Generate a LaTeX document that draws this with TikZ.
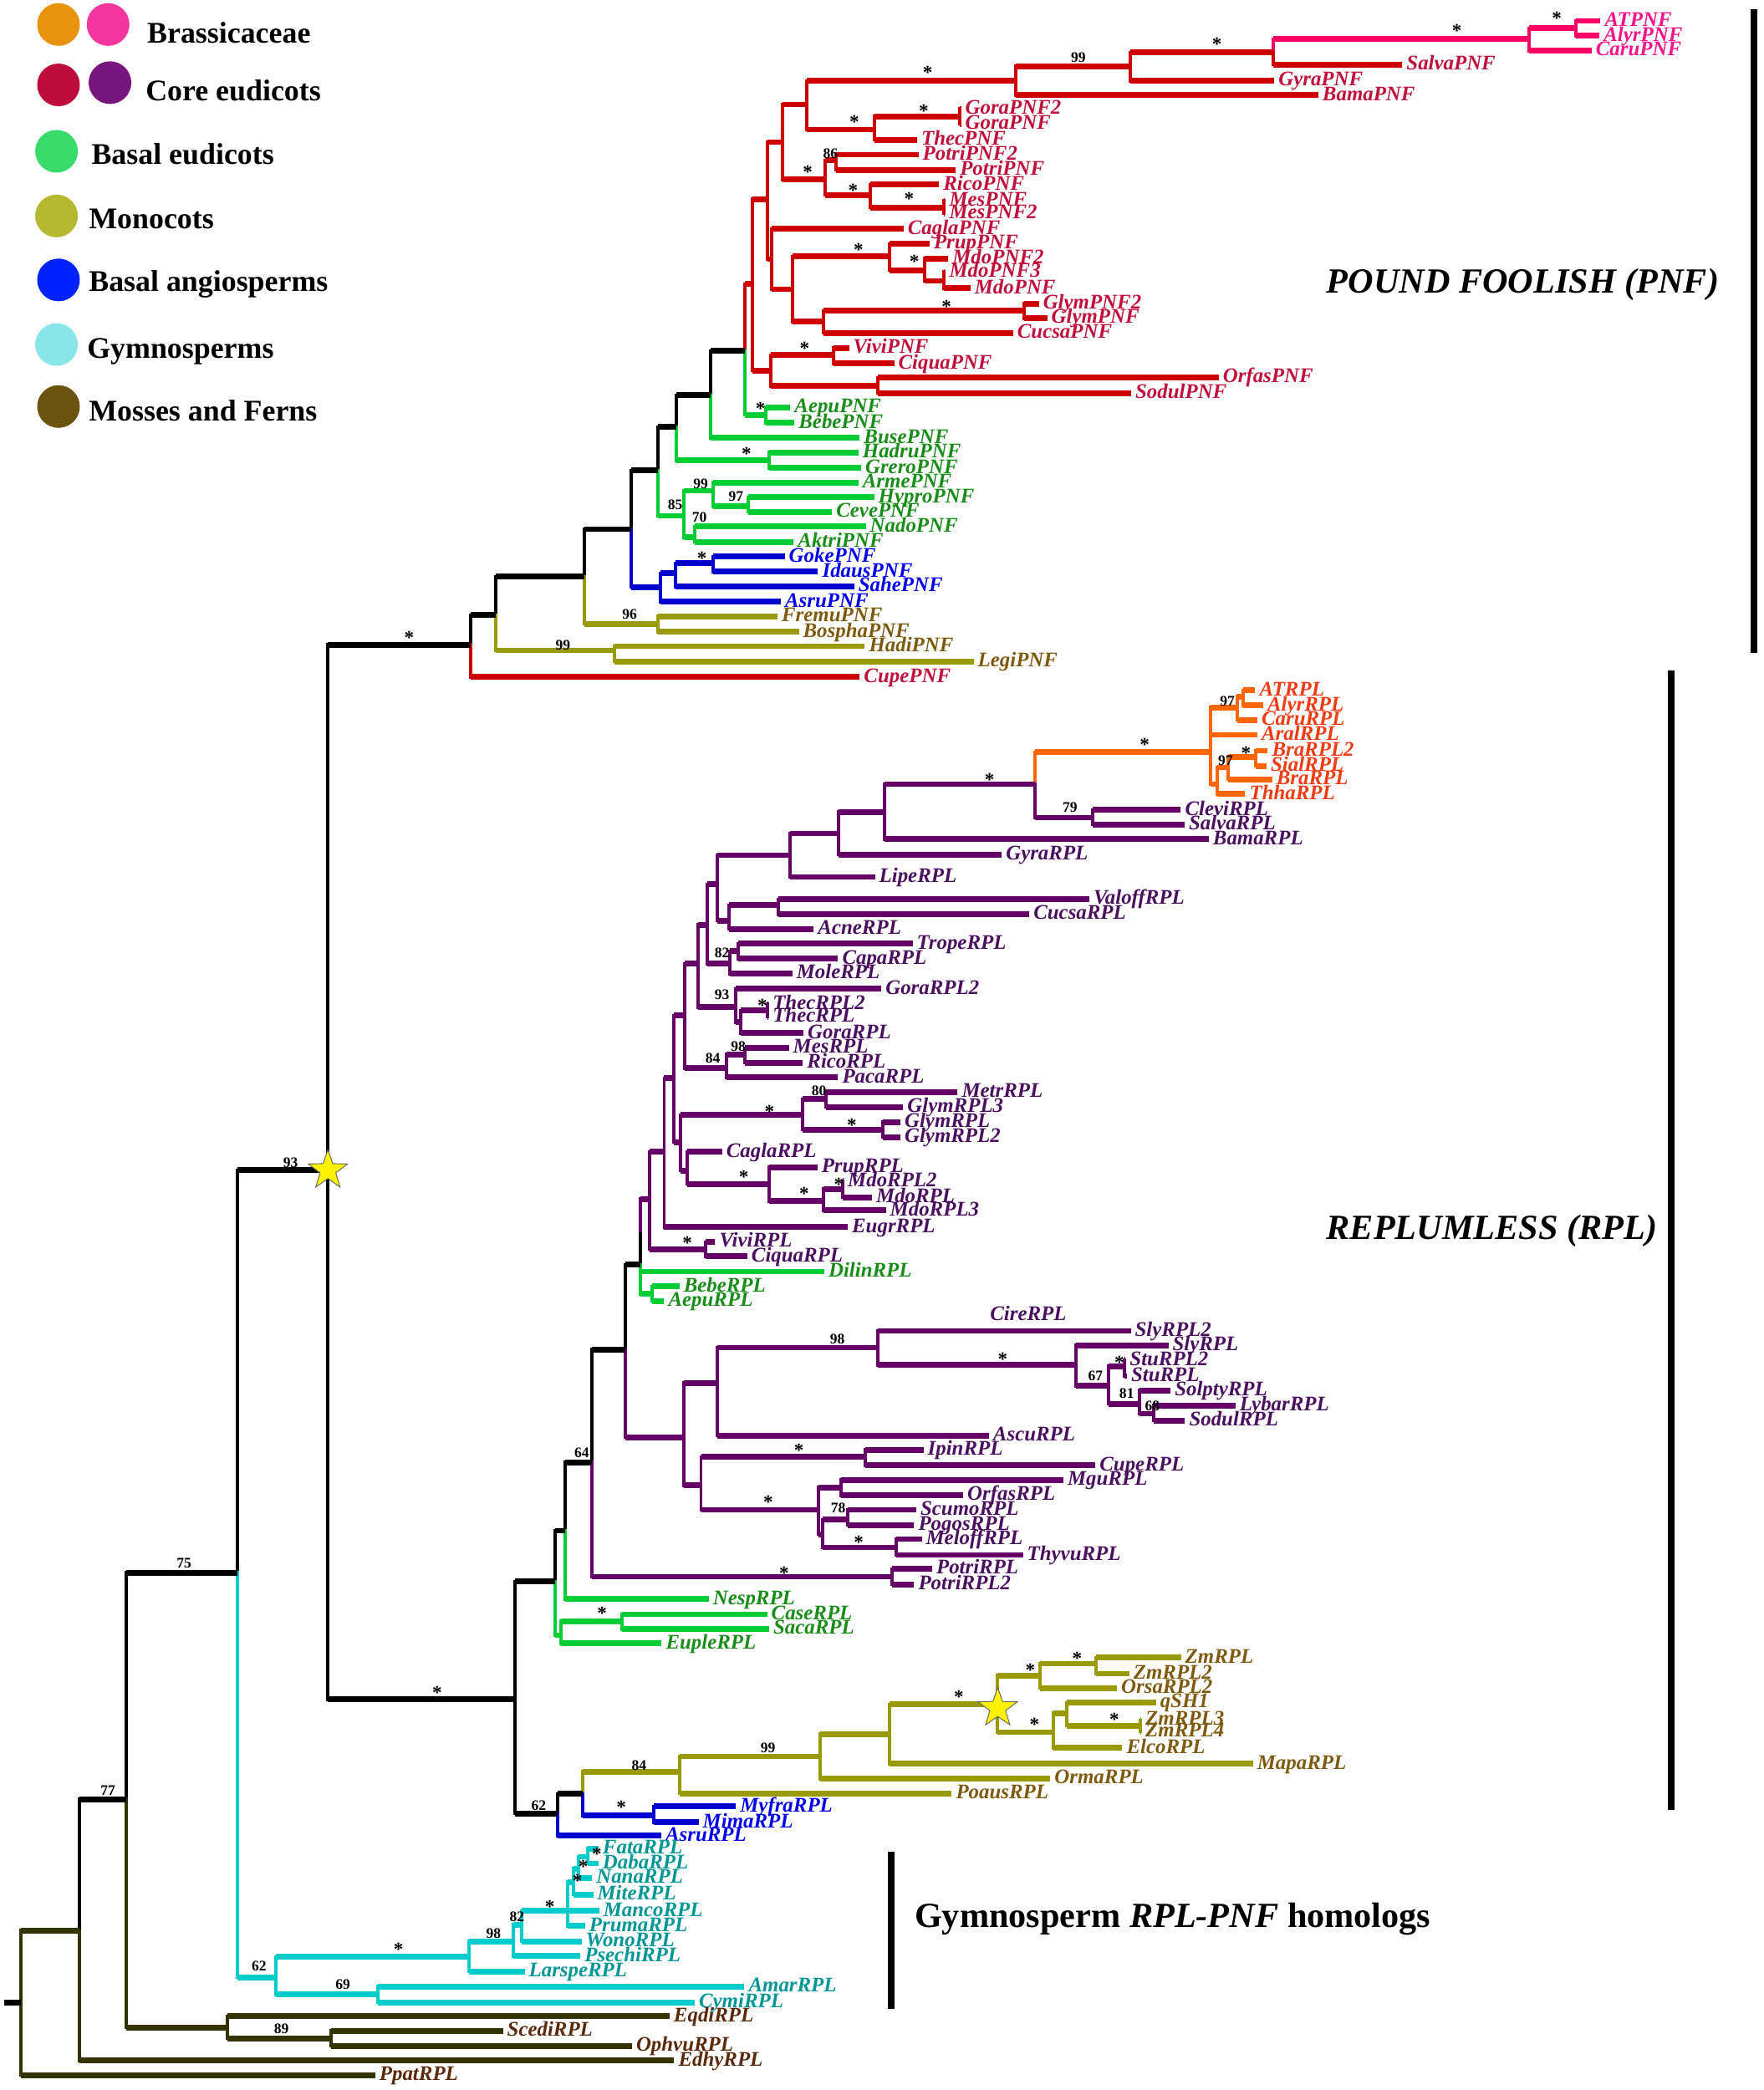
\documentclass[tikz,border=0pt]{standalone}
\usepackage{fontspec}
\setmainfont{Liberation Serif}
\usetikzlibrary{shapes.geometric}

% branch colours
\definecolor{brRed}{RGB}{204,0,0}
\definecolor{brPink}{RGB}{255,0,102}
\definecolor{brPur}{RGB}{102,0,102}
\definecolor{brOrg}{RGB}{255,102,0}
\definecolor{brGrn}{RGB}{0,204,51}
\definecolor{brOli}{RGB}{153,153,0}
\definecolor{brBlu}{RGB}{0,0,204}
\definecolor{brCya}{RGB}{0,204,204}
\definecolor{brMos}{RGB}{51,51,0}
% label colours
\definecolor{txRed}{RGB}{192,16,60}
\definecolor{txPink}{RGB}{245,20,140}
\definecolor{txPur}{RGB}{75,15,95}
\definecolor{txOrg}{RGB}{240,60,20}
\definecolor{txGrn}{RGB}{25,140,25}
\definecolor{txOli}{RGB}{125,90,15}
\definecolor{txBlu}{RGB}{0,0,235}
\definecolor{txCya}{RGB}{0,150,150}
\definecolor{txMos}{RGB}{90,40,10}
% legend colours
\definecolor{lgOrg}{RGB}{232,146,14}
\definecolor{lgPink}{RGB}{245,53,160}
\definecolor{lgRed}{RGB}{190,12,60}
\definecolor{lgPur}{RGB}{120,21,126}
\definecolor{lgGrn}{RGB}{56,218,106}
\definecolor{lgOli}{RGB}{181,185,50}
\definecolor{lgBlu}{RGB}{0,34,255}
\definecolor{lgCya}{RGB}{138,229,234}
\definecolor{lgMos}{RGB}{107,83,16}

\tikzset{
  lab/.style={anchor=west, inner xsep=3pt, inner ysep=0pt, text height=11pt, text depth=3pt,
              font=\fontsize{15.6}{16}\selectfont\bfseries\itshape},
  lRed/.style={lab, text=txRed}, lPink/.style={lab, text=txPink},
  lPur/.style={lab, text=txPur}, lOrg/.style={lab, text=txOrg},
  lGrn/.style={lab, text=txGrn}, lOli/.style={lab, text=txOli},
  lBlu/.style={lab, text=txBlu}, lCya/.style={lab, text=txCya},
  lMos/.style={lab, text=txMos},
  boot/.style={inner sep=0pt, font=\fontsize{11}{12}\selectfont\bfseries},
  ast/.style={yshift=-2.2pt, font=\fontsize{14.5}{15}\selectfont\bfseries},
  heading/.style={anchor=base west, inner sep=0pt, font=\fontsize{26.5}{28}\selectfont\bfseries\itshape},
  legtext/.style={anchor=base west, inner sep=0pt, font=\fontsize{22.5}{24}\selectfont\bfseries},
  dot/.style={circle, minimum size=32pt, inner sep=0pt},
  sidebar/.style={line width=5pt},
  blk/.style={black},
  vbranch/.style={draw, line width=2.5pt, line cap=rect, to path={-- (\tikztostart |- \tikztotarget)}},
  hbranch/.style={draw, line width=4.3pt, to path={(\tikztostart |- \tikztotarget) -- (\tikztotarget)}},
  yelstar/.style={star, star points=5, star point ratio=2.5, minimum size=31pt,
                  fill=yellow, draw=black!60, line width=0.6pt, inner sep=0pt},
}

% all branches, parent first; drawn twice (verticals, then horizontals)
\newcommand{\treeedges}{%
	\path (p1) edge[brPink] (ATPNF);
	\path (p1) edge[brPink] (AlyrPNF);
	\path (p2) edge[brPink] (p1);
	\path (p2) edge[brPink] (CaruPNF);
	\path (p3) edge[brPink] (p2);
	\path (p3) edge[brRed] (SalvaPNF);
	\path (p4) edge[brRed] (p3);
	\path (p4) edge[brRed] (GyraPNF);
	\path (p5) edge[brRed] (p4);
	\path (p5) edge[brRed] (BamaPNF);
	\path (p6) edge[brRed] (p5);
	\path (p6) edge[brRed] (p7);
	\path (p7) edge[brRed] (p8);
	\path (p7) edge[brRed] (ThecPNF);
	\path (p8) edge[brRed] (GoraPNF2);
	\path (p8) edge[brRed] (GoraPNF);
	\path (p9) edge[brRed] (p6);
	\path (p9) edge[brRed] (p10);
	\path (p10) edge[brRed] (p11);
	\path (p10) edge[brRed] (p12);
	\path (p11) edge[brRed] (PotriPNF2);
	\path (p11) edge[brRed] (PotriPNF);
	\path (p12) edge[brRed] (RicoPNF);
	\path (p12) edge[brRed] (p13);
	\path (p13) edge[brRed] (MesPNF);
	\path (p13) edge[brRed] (MesPNF2);
	\path (p14) edge[brRed] (p9);
	\path (p14) edge[brRed] (p15);
	\path (p15) edge[brRed] (CaglaPNF);
	\path (p15) edge[brRed] (p16);
	\path (p16) edge[brRed] (p17);
	\path (p16) edge[brRed] (p20);
	\path (p17) edge[brRed] (PrupPNF);
	\path (p17) edge[brRed] (p18);
	\path (p18) edge[brRed] (MdoPNF2);
	\path (p18) edge[brRed] (p19);
	\path (p19) edge[brRed] (MdoPNF3);
	\path (p19) edge[brRed] (MdoPNF);
	\path (p20) edge[brRed] (p21);
	\path (p20) edge[brRed] (CucsaPNF);
	\path (p21) edge[brRed] (GlymPNF2);
	\path (p21) edge[brRed] (GlymPNF);
	\path (p22) edge[brRed] (p14);
	\path (p22) edge[brRed] (p23);
	\path (p23) edge[brRed] (p24);
	\path (p23) edge[brRed] (p25);
	\path (p24) edge[brRed] (ViviPNF);
	\path (p24) edge[brRed] (CiquaPNF);
	\path (p25) edge[brRed] (OrfasPNF);
	\path (p25) edge[brRed] (SodulPNF);
	\path (p26) edge[brRed] (p22);
	\path (p26) edge[brGrn] (p27);
	\path (p27) edge[brGrn] (AepuPNF);
	\path (p27) edge[brGrn] (BebePNF);
	\path (p28) edge[blk] (p26);
	\path (p28) edge[brGrn] (BusePNF);
	\path (p29) edge[blk] (p28);
	\path (p29) edge[brGrn] (p30);
	\path (p30) edge[brGrn] (HadruPNF);
	\path (p30) edge[brGrn] (GreroPNF);
	\path (p31) edge[blk] (p29);
	\path (p31) edge[brGrn] (p32);
	\path (p32) edge[brGrn] (p33);
	\path (p32) edge[brGrn] (p35);
	\path (p33) edge[brGrn] (ArmePNF);
	\path (p33) edge[brGrn] (p34);
	\path (p34) edge[brGrn] (HyproPNF);
	\path (p34) edge[brGrn] (CevePNF);
	\path (p35) edge[brGrn] (NadoPNF);
	\path (p35) edge[brGrn] (AktriPNF);
	\path (p36) edge[blk] (p31);
	\path (p36) edge[brBlu] (p37);
	\path (p37) edge[brBlu] (p38);
	\path (p37) edge[brBlu] (AsruPNF);
	\path (p38) edge[brBlu] (p39);
	\path (p38) edge[brBlu] (SahePNF);
	\path (p39) edge[brBlu] (GokePNF);
	\path (p39) edge[brBlu] (IdausPNF);
	\path (p40) edge[blk] (p36);
	\path (p40) edge[brOli] (p41);
	\path (p41) edge[brOli] (FremuPNF);
	\path (p41) edge[brOli] (BosphaPNF);
	\path (p42) edge[blk] (p40);
	\path (p42) edge[brOli] (p43);
	\path (p43) edge[brOli] (HadiPNF);
	\path (p43) edge[brOli] (LegiPNF);
	\path (p44) edge[blk] (p42);
	\path (p44) edge[brRed] (CupePNF);
	\path (r1) edge[brOrg] (ATRPL);
	\path (r1) edge[brOrg] (AlyrRPL);
	\path (r2) edge[brOrg] (r1);
	\path (r2) edge[brOrg] (CaruRPL);
	\path (r3) edge[brOrg] (BraRPL2);
	\path (r3) edge[brOrg] (SialRPL);
	\path (r4) edge[brOrg] (r3);
	\path (r4) edge[brOrg] (BraRPL);
	\path (r5) edge[brOrg] (r4);
	\path (r5) edge[brOrg] (ThhaRPL);
	\path (r6) edge[brOrg] (r2);
	\path (r6) edge[brOrg] (AralRPL);
	\path (r6) edge[brOrg] (r5);
	\path (r7) edge[brPur] (CleviRPL);
	\path (r7) edge[brPur] (SalvaRPL);
	\path (r8) edge[brOrg] (r6);
	\path (r8) edge[brPur] (r7);
	\path (r9) edge[brPur] (r8);
	\path (r9) edge[brPur] (BamaRPL);
	\path (r10) edge[brPur] (r9);
	\path (r10) edge[brPur] (GyraRPL);
	\path (r11) edge[brPur] (r10);
	\path (r11) edge[brPur] (LipeRPL);
	\path (r12) edge[brPur] (ValoffRPL);
	\path (r12) edge[brPur] (CucsaRPL);
	\path (r13) edge[brPur] (r12);
	\path (r13) edge[brPur] (AcneRPL);
	\path (r14) edge[brPur] (r11);
	\path (r14) edge[brPur] (r13);
	\path (r15) edge[brPur] (TropeRPL);
	\path (r15) edge[brPur] (CapaRPL);
	\path (r16) edge[brPur] (r15);
	\path (r16) edge[brPur] (MoleRPL);
	\path (r17) edge[brPur] (r14);
	\path (r17) edge[brPur] (r16);
	\path (r18) edge[brPur] (ThecRPL2);
	\path (r18) edge[brPur] (ThecRPL);
	\path (r19) edge[brPur] (r18);
	\path (r19) edge[brPur] (GoraRPL);
	\path (r20) edge[brPur] (GoraRPL2);
	\path (r20) edge[brPur] (r19);
	\path (r21) edge[brPur] (r17);
	\path (r21) edge[brPur] (r20);
	\path (r22) edge[brPur] (MesRPL);
	\path (r22) edge[brPur] (RicoRPL);
	\path (r23) edge[brPur] (r22);
	\path (r23) edge[brPur] (PacaRPL);
	\path (r24) edge[brPur] (r21);
	\path (r24) edge[brPur] (r23);
	\path (r25) edge[brPur] (MetrRPL);
	\path (r25) edge[brPur] (GlymRPL3);
	\path (r26) edge[brPur] (GlymRPL);
	\path (r26) edge[brPur] (GlymRPL2);
	\path (r27) edge[brPur] (r25);
	\path (r27) edge[brPur] (r26);
	\path (r28) edge[brPur] (MdoRPL2);
	\path (r28) edge[brPur] (MdoRPL);
	\path (r29) edge[brPur] (r28);
	\path (r29) edge[brPur] (MdoRPL3);
	\path (r30) edge[brPur] (PrupRPL);
	\path (r30) edge[brPur] (r29);
	\path (r31) edge[brPur] (CaglaRPL);
	\path (r31) edge[brPur] (r30);
	\path (r32) edge[brPur] (r27);
	\path (r32) edge[brPur] (r31);
	\path (r33) edge[brPur] (r24);
	\path (r33) edge[brPur] (r32);
	\path (r34) edge[brPur] (r33);
	\path (r34) edge[brPur] (EugrRPL);
	\path (r35) edge[brPur] (ViviRPL);
	\path (r35) edge[brPur] (CiquaRPL);
	\path (r36) edge[brPur] (r34);
	\path (r36) edge[brPur] (r35);
	\path (r37) edge[brPur] (r36);
	\path (r38) edge[brGrn] (BebeRPL);
	\path (r38) edge[brGrn] (AepuRPL);
	\path (r39) edge[blk] (r37);
	\path (r39) edge[brGrn] (DilinRPL);
	\path (r39) edge[brGrn] (r38);
	\path (r40) edge[brPur] (StuRPL2);
	\path (r40) edge[brPur] (StuRPL);
	\path (r41) edge[brPur] (LybarRPL);
	\path (r41) edge[brPur] (SodulRPL);
	\path (r42) edge[brPur] (SolptyRPL);
	\path (r42) edge[brPur] (r41);
	\path (r43) edge[brPur] (r40);
	\path (r43) edge[brPur] (r42);
	\path (r44) edge[brPur] (SlyRPL);
	\path (r44) edge[brPur] (r43);
	\path (r45) edge[brPur] (SlyRPL2);
	\path (r45) edge[brPur] (r44);
	\path (r46) edge[brPur] (r45);
	\path (r46) edge[brPur] (AscuRPL);
	\path (r47) edge[brPur] (IpinRPL);
	\path (r47) edge[brPur] (CupeRPL);
	\path (r48) edge[brPur] (MguRPL);
	\path (r48) edge[brPur] (OrfasRPL);
	\path (r49) edge[brPur] (ScumoRPL);
	\path (r49) edge[brPur] (PogosRPL);
	\path (r50) edge[brPur] (MeloffRPL);
	\path (r50) edge[brPur] (ThyvuRPL);
	\path (r51) edge[brPur] (r49);
	\path (r51) edge[brPur] (r50);
	\path (r52) edge[brPur] (r48);
	\path (r52) edge[brPur] (r51);
	\path (r53) edge[brPur] (r47);
	\path (r53) edge[brPur] (r52);
	\path (r54) edge[brPur] (r46);
	\path (r54) edge[brPur] (r53);
	\path (r55) edge[blk] (r39);
	\path (r55) edge[brPur] (r54);
	\path (r56) edge[brPur] (PotriRPL);
	\path (r56) edge[brPur] (PotriRPL2);
	\path (r57) edge[blk] (r55);
	\path (r57) edge[brPur] (r56);
	\path (r58) edge[blk] (r57);
	\path (r58) edge[brGrn] (NespRPL);
	\path (r59) edge[brGrn] (CaseRPL);
	\path (r59) edge[brGrn] (SacaRPL);
	\path (r60) edge[brGrn] (r59);
	\path (r60) edge[brGrn] (EupleRPL);
	\path (r61) edge[blk] (r58);
	\path (r61) edge[brGrn] (r60);
	\path (r62) edge[brOli] (ZmRPL);
	\path (r62) edge[brOli] (ZmRPL2);
	\path (r63) edge[brOli] (r62);
	\path (r63) edge[brOli] (OrsaRPL2);
	\path (r64) edge[brOli] (ZmRPL3);
	\path (r64) edge[brOli] (ZmRPL4);
	\path (r65) edge[brOli] (qSH1);
	\path (r65) edge[brOli] (r64);
	\path (r66) edge[brOli] (r65);
	\path (r66) edge[brOli] (ElcoRPL);
	\path (r67) edge[brOli] (r63);
	\path (r67) edge[brOli] (r66);
	\path (r68) edge[brOli] (r67);
	\path (r68) edge[brOli] (MapaRPL);
	\path (r69) edge[brOli] (r68);
	\path (r69) edge[brOli] (OrmaRPL);
	\path (r70) edge[brOli] (r69);
	\path (r70) edge[brOli] (PoausRPL);
	\path (r71) edge[brBlu] (MyfraRPL);
	\path (r71) edge[brBlu] (MimaRPL);
	\path (r72) edge[brOli] (r70);
	\path (r72) edge[brBlu] (r71);
	\path (r73) edge[blk] (r72);
	\path (r73) edge[brBlu] (AsruRPL);
	\path (r74) edge[blk] (r61);
	\path (r74) edge[blk] (r73);
	\path (g1) edge[brCya] (FataRPL);
	\path (g1) edge[brCya] (DabaRPL);
	\path (g2) edge[brCya] (g1);
	\path (g2) edge[brCya] (NanaRPL);
	\path (g3) edge[brCya] (g2);
	\path (g3) edge[brCya] (MiteRPL);
	\path (g4) edge[brCya] (g3);
	\path (g4) edge[brCya] (MancoRPL);
	\path (g4) edge[brCya] (PrumaRPL);
	\path (g5) edge[brCya] (g4);
	\path (g5) edge[brCya] (WonoRPL);
	\path (g6) edge[brCya] (g5);
	\path (g6) edge[brCya] (PsechiRPL);
	\path (g7) edge[brCya] (g6);
	\path (g7) edge[brCya] (LarspeRPL);
	\path (g8) edge[brCya] (AmarRPL);
	\path (g8) edge[brCya] (CymiRPL);
	\path (g9) edge[brCya] (g7);
	\path (g9) edge[brCya] (g8);
	\path (b1) edge[blk] (p44);
	\path (b1) edge[blk] (r74);
	\path (b2) edge[blk] (b1);
	\path (b2) edge[brCya] (g9);
	\path (m1) edge[brMos] (ScediRPL);
	\path (m1) edge[brMos] (OphvuRPL);
	\path (m2) edge[brMos] (EqdiRPL);
	\path (m2) edge[brMos] (m1);
	\path (b3) edge[blk] (b2);
	\path (b3) edge[brMos] (m2);
	\path (b4) edge[blk] (b3);
	\path (b4) edge[brMos] (EdhyRPL);
	\path (b5) edge[brMos] (b4);
	\path (b5) edge[brMos] (PpatRPL);
	\path (root) edge[blk] (b5);
}

\begin{document}
\begin{tikzpicture}[x=1pt, y=-1pt]
\useasboundingbox (0,0) rectangle (1323,1568);

% legend
\begin{scope}[every node/.style={dot}]
	\node[fill=lgOrg] (dBra1) at (43.9,18.4) {};
	\node[fill=lgPink] (dBra2) at (81.1,18.4) {};
	\node[fill=lgRed] (dCor1) at (43.9,63.7) {};
	\node[fill=lgPur] (dCor2) at (82.5,62) {};
	\node[fill=lgGrn] (dBas) at (42.4,113.5) {};
	\node[fill=lgOli] (dMon) at (42.4,162) {};
	\node[fill=lgBlu] (dAng) at (43.9,210) {};
	\node[fill=lgCya] (dGym) at (42.4,258.5) {};
	\node[fill=lgMos] (dMos) at (43.9,305) {};
\end{scope}
\begin{scope}[every node/.style={legtext}]
	\node (tBra) at (110.3,32.4) {Brassicaceae};
	\node (tCor) at (109.1,75.7) {Core eudicots};
	\node (tBas) at (68.5,123.3) {Basal eudicots};
	\node (tMon) at (66.5,171.8) {Monocots};
	\node (tAng) at (66.5,218.4) {Basal angiosperms};
	\node (tGym) at (65.2,268.6) {Gymnosperms};
	\node (tMos) at (66.5,316) {Mosses and Ferns};
\end{scope}

% clade headings and bars
\node[heading] (hPNF) at (995,220) {POUND FOOLISH (PNF)};
\node[heading] (hRPL) at (995,930) {REPLUMLESS (RPL)};
\node[heading, font=\fontsize{26.5}{28}\selectfont\bfseries] (hGym) at (686,1446) {Gymnosperm \textit{RPL-PNF} homologs};
\coordinate (pnfTop) at (1316,7);    \coordinate (pnfBot) at (1316,490);
\coordinate (rplTop) at (1254,503);  \coordinate (rplBot) at (1254,1358);
\coordinate (gymTop) at (668.5,1389); \coordinate (gymBot) at (668.5,1507);
\draw[sidebar] (pnfTop) -- (pnfBot);
\draw[sidebar] (rplTop) -- (rplBot);
\draw[sidebar] (gymTop) -- (gymBot);

% internal nodes, PNF
\coordinate (p1) at (1182,21.2);
\coordinate (p2) at (1147,29.3);
\coordinate (p3) at (955,39.3);
\coordinate (p4) at (848,49.7);
\coordinate (p5) at (762,60.6);
\coordinate (p6) at (605,78.4);
\coordinate (p7) at (656,97.2);
\coordinate (p8) at (720,87.3);
\coordinate (p9) at (587,106.6);
\coordinate (p10) at (619,134.8);
\coordinate (p11) at (627.5,120.2);
\coordinate (p12) at (652.7,146.3);
\coordinate (p13) at (708,155.7);
\coordinate (p14) at (576,149.4);
\coordinate (p15) at (579,194.4);
\coordinate (p16) at (594.7,217);
\coordinate (p17) at (667.5,192.3);
\coordinate (p18) at (693.8,202.7);
\coordinate (p19) at (708,210.7);
\coordinate (p20) at (617.6,241.4);
\coordinate (p21) at (768.2,233);
\coordinate (p22) at (564.5,213);
\coordinate (p23) at (578.5,278);
\coordinate (p24) at (625.5,266.5);
\coordinate (p25) at (658.3,289.5);
\coordinate (p26) at (558.6,263.3);
\coordinate (p27) at (574.6,311.4);
\coordinate (p28) at (533,296.4);
\coordinate (p29) at (507.5,320.2);
\coordinate (p30) at (576.8,345.3);
\coordinate (p31) at (493.7,352.8);
\coordinate (p32) at (512.9,387);
\coordinate (p33) at (535.3,368.2);
\coordinate (p34) at (561.5,380);
\coordinate (p35) at (520.9,403);
\coordinate (p36) at (473.5,397);
\coordinate (p37) at (495.3,440.6);
\coordinate (p38) at (506.5,430.1);
\coordinate (p39) at (535.3,422.6);
\coordinate (p40) at (438.4,432.6);
\coordinate (p41) at (493.7,468.1);
\coordinate (p42) at (372.2,461.4);
\coordinate (p43) at (460.8,488);
\coordinate (p44) at (353,483.8);

% internal nodes, RPL
\coordinate (r1) at (932.6,522.5);
\coordinate (r2) at (928,530.8);
\coordinate (r3) at (941.8,568);
\coordinate (r4) at (921.4,575.8);
\coordinate (r5) at (913,588.3);
\coordinate (r6) at (908.2,564.3);
\coordinate (r7) at (820,613.4);
\coordinate (r8) at (776.7,588.3);
\coordinate (r9) at (663.3,609.2);
\coordinate (r10) at (629.2,625.3);
\coordinate (r11) at (592.4,641.6);
\coordinate (r12) at (584,679.2);
\coordinate (r13) at (546.9,690.7);
\coordinate (r14) at (538.3,663.5);
\coordinate (r15) at (553.9,713.7);
\coordinate (r16) at (547.6,723.1);
\coordinate (r17) at (530.5,693.8);
\coordinate (r18) at (575.5,758.2);
\coordinate (r19) at (555.5,766.8);
\coordinate (r20) at (552.1,755.5);
\coordinate (r21) at (523.5,723.1);
\coordinate (r22) at (558.6,791);
\coordinate (r23) at (545,801.5);
\coordinate (r24) at (513.9,761.8);
\coordinate (r25) at (619.6,824.5);
\coordinate (r26) at (662.5,847.5);
\coordinate (r27) at (602.3,836.4);
\coordinate (r28) at (631.9,892);
\coordinate (r29) at (617.8,901.1);
\coordinate (r30) at (576.8,888.2);
\coordinate (r31) at (515.7,878.2);
\coordinate (r32) at (510.5,856.9);
\coordinate (r33) at (505.3,808.8);
\coordinate (r34) at (498.3,864.2);
\coordinate (r35) at (529.5,937.3);
\coordinate (r36) at (487.1,899.7);
\coordinate (r37) at (480.6,925.8);
\coordinate (r38) at (488.9,970.7);
\coordinate (r39) at (480.6,948.7);
\coordinate (r40) at (843.4,1025.1);
\coordinate (r41) at (865.5,1060.6);
\coordinate (r42) at (854.9,1053.3);
\coordinate (r43) at (831.4,1039.7);
\coordinate (r44) at (806.9,1024);
\coordinate (r45) at (658.6,1011);
\coordinate (r46) at (538,1037.6);
\coordinate (r47) at (649,1092.9);
\coordinate (r48) at (630.7,1116);
\coordinate (r49) at (636.2,1140);
\coordinate (r50) at (672.4,1160.9);
\coordinate (r51) at (617,1151.1);
\coordinate (r52) at (613.8,1132.7);
\coordinate (r53) at (525.9,1114.3);
\coordinate (r54) at (513.1,1078.4);
\coordinate (r55) at (469,1012.5);
\coordinate (r56) at (669.2,1182.9);
\coordinate (r57) at (444.3,1097.2);
\coordinate (r58) at (424.1,1148.4);
\coordinate (r59) at (466.7,1216.3);
\coordinate (r60) at (421,1226.8);
\coordinate (r61) at (416.5,1186.6);
\coordinate (r62) at (822,1248.1);
\coordinate (r63) at (780,1257);
\coordinate (r64) at (855.2,1294.7);
\coordinate (r65) at (800,1285.3);
\coordinate (r66) at (790,1299.5);
\coordinate (r67) at (748.1,1278.6);
\coordinate (r68) at (667.3,1301);
\coordinate (r69) at (615.3,1317.7);
\coordinate (r70) at (510.1,1329.2);
\coordinate (r71) at (490.2,1362.2);
\coordinate (r72) at (437,1345.9);
\coordinate (r73) at (418.2,1360.5);
\coordinate (r74) at (386.2,1274.8);

% internal nodes, gymnosperms, mosses and backbone
\coordinate (g1) at (441,1393);
\coordinate (g2) at (434,1402);
\coordinate (g3) at (430,1412);
\coordinate (g4) at (425.7,1433.6);
\coordinate (g5) at (391.4,1444.1);
\coordinate (g6) at (384.8,1456.6);
\coordinate (g7) at (351.8,1468.1);
\coordinate (g8) at (283.7,1496.4);
\coordinate (g9) at (206.7,1483.4);
\coordinate (m1) at (248.5,1529.3);
\coordinate (m2) at (170.6,1521);
\coordinate (b1) at (246,878);
\coordinate (b2) at (178.1,1180);
\coordinate (b3) at (94.6,1350);
\coordinate (b4) at (59.4,1448.3);
\coordinate (b5) at (15.4,1502.6);
\coordinate (root) at (3,1502.6);

% leaves, PNF
\node[lPink] (ATPNF) at (1200.7,15.7) {ATPNF};
\node[lPink] (AlyrPNF) at (1200,26.8) {AlyrPNF};
\node[lPink] (CaruPNF) at (1194,38) {CaruPNF};
\node[lRed] (SalvaPNF) at (1052,48.5) {SalvaPNF};
\node[lRed] (GyraPNF) at (956,60.6) {GyraPNF};
\node[lRed] (BamaPNF) at (989,71.3) {BamaPNF};
\node[lRed] (GoraPNF2) at (721,81.5) {GoraPNF2};
\node[lRed] (GoraPNF) at (721,93) {GoraPNF};
\node[lRed] (ThecPNF) at (688,104.9) {ThecPNF};
\node[lRed] (PotriPNF2) at (689,116) {PotriPNF2};
\node[lRed] (PotriPNF) at (717,127.5) {PotriPNF};
\node[lRed] (RicoPNF) at (704.5,138.4) {RicoPNF};
\node[lRed] (MesPNF) at (709,150.5) {MesPNF};
\node[lRed] (MesPNF2) at (709,160) {MesPNF2};
\node[lRed] (CaglaPNF) at (677.8,171.8) {CaglaPNF};
\node[lRed] (PrupPNF) at (697.4,182.9) {PrupPNF};
\node[lRed] (MdoPNF2) at (711.4,194) {MdoPNF2};
\node[lRed] (MdoPNF3) at (709,203.8) {MdoPNF3};
\node[lRed] (MdoPNF) at (728,216.3) {MdoPNF};
\node[lRed] (GlymPNF2) at (779.4,227.8) {GlymPNF2};
\node[lRed] (GlymPNF) at (785.6,238.7) {GlymPNF};
\node[lRed] (CucsaPNF) at (760,249.7) {CucsaPNF};
\node[lRed] (ViviPNF) at (637,261.2) {ViviPNF};
\node[lRed] (CiquaPNF) at (670.8,272.7) {CiquaPNF};
\node[lRed] (OrfasPNF) at (914.3,283.2) {OrfasPNF};
\node[lRed] (SodulPNF) at (848.6,295) {SodulPNF};
\node[lGrn] (AepuPNF) at (592.9,305.5) {AepuPNF};
\node[lGrn] (BebePNF) at (596,317.2) {BebePNF};
\node[lGrn] (BusePNF) at (645,328.5) {BusePNF};
\node[lGrn] (HadruPNF) at (644,339.6) {HadruPNF};
\node[lGrn] (GreroPNF) at (646,351) {GreroPNF};
\node[lGrn] (ArmePNF) at (644,362) {ArmePNF};
\node[lGrn] (HyproPNF) at (655.8,373) {HyproPNF};
\node[lGrn] (CevePNF) at (624.2,384.1) {CevePNF};
\node[lGrn] (NadoPNF) at (649.5,395) {NadoPNF};
\node[lGrn] (AktriPNF) at (595.4,406.5) {AktriPNF};
\node[lBlu] (GokePNF) at (588.7,417.6) {GokePNF};
\node[lBlu] (IdausPNF) at (613.7,428.8) {IdausPNF};
\node[lBlu] (SahePNF) at (640.8,440) {SahePNF};
\node[lBlu] (AsruPNF) at (585.8,451.4) {AsruPNF};
\node[lOli] (FremuPNF) at (583.3,462.3) {FremuPNF};
\node[lOli] (BosphaPNF) at (599.3,474) {BosphaPNF};
\node[lOli] (HadiPNF) at (648.8,484.8) {HadiPNF};
\node[lOli] (LegiPNF) at (730.4,496.4) {LegiPNF};
\node[lRed] (CupePNF) at (645,507.8) {CupePNF};

% leaves, RPL
\node[lOrg] (ATRPL) at (941.7,517.9) {ATRPL};
\node[lOrg] (AlyrRPL) at (947.7,529.2) {AlyrRPL};
\node[lOrg] (CaruRPL) at (943.3,540.2) {CaruRPL};
\node[lOrg] (AralRPL) at (943.3,551.3) {AralRPL};
\node[lOrg] (BraRPL2) at (951.1,563.2) {BraRPL2};
\node[lOrg] (SialRPL) at (950.2,574.7) {SialRPL};
\node[lOrg] (BraRPL) at (954.4,584.8) {BraRPL};
\node[lOrg] (ThhaRPL) at (934.2,595.6) {ThhaRPL};
\node[lPur] (CleviRPL) at (885.9,607.7) {CleviRPL};
\node[lPur] (SalvaRPL) at (888.7,618.6) {SalvaRPL};
\node[lPur] (BamaRPL) at (906.8,629.5) {BamaRPL};
\node[lPur] (GyraRPL) at (751.5,641.2) {GyraRPL};
\node[lPur] (LipeRPL) at (656.4,657.9) {LipeRPL};
\node[lPur] (ValoffRPL) at (817.2,674.6) {ValoffRPL};
\node[lPur] (CucsaRPL) at (772.2,685.9) {CucsaRPL};
\node[lPur] (AcneRPL) at (610.5,697) {AcneRPL};
\node[lPur] (TropeRPL) at (684.6,708) {TropeRPL};
\node[lPur] (CapaRPL) at (628.7,719.3) {CapaRPL};
\node[lPur] (MoleRPL) at (594.4,730.4) {MoleRPL};
\node[lPur] (GoraRPL2) at (661.2,741.9) {GoraRPL2};
\node[lPur] (ThecRPL2) at (576.5,753.4) {ThecRPL2};
\node[lPur] (ThecRPL) at (576.5,762.8) {ThecRPL};
\node[lPur] (GoraRPL) at (602.8,775) {GoraRPL};
\node[lPur] (MesRPL) at (591.8,786.2) {MesRPL};
\node[lPur] (RicoRPL) at (602.3,797.3) {RicoRPL};
\node[lPur] (PacaRPL) at (628.7,808.3) {PacaRPL};
\node[lPur] (MetrRPL) at (718.4,819.2) {MetrRPL};
\node[lPur] (GlymRPL3) at (677.6,830.7) {GlymRPL3};
\node[lPur] (GlymRPL) at (675.5,841.8) {GlymRPL};
\node[lPur] (GlymRPL2) at (675.5,853.1) {GlymRPL2};
\node[lPur] (CaglaRPL) at (541.7,864.2) {CaglaRPL};
\node[lPur] (PrupRPL) at (613.2,875.7) {PrupRPL};
\node[lPur] (MdoRPL2) at (632.9,886.1) {MdoRPL2};
\node[lPur] (MdoRPL) at (654.2,898.2) {MdoRPL};
\node[lPur] (MdoRPL3) at (664.6,908) {MdoRPL3};
\node[lPur] (EugrRPL) at (636,920.6) {EugrRPL};
\node[lPur] (ViviRPL) at (536.5,931.7) {ViviRPL};
\node[lPur] (CiquaRPL) at (560.6,942.5) {CiquaRPL};
\node[lGrn] (DilinRPL) at (618.4,954) {DilinRPL};
\node[lGrn] (BebeRPL) at (509.7,965.1) {BebeRPL};
\node[lGrn] (AepuRPL) at (498.3,976) {AepuRPL};
\node[lPur] (CireRPL) at (739.6,986.5) {CireRPL};
\node[lPur] (SlyRPL2) at (848.3,998.5) {SlyRPL2};
\node[lPur] (SlyRPL) at (876.5,1009.4) {SlyRPL};
\node[lPur] (StuRPL2) at (844.4,1020.3) {StuRPL2};
\node[lPur] (StuRPL) at (845.4,1032.4) {StuRPL};
\node[lPur] (SolptyRPL) at (878.2,1043.3) {SolptyRPL};
\node[lPur] (LybarRPL) at (926.9,1054.4) {LybarRPL};
\node[lPur] (SodulRPL) at (889,1065.8) {SodulRPL};
\node[lPur] (AscuRPL) at (741.9,1077) {AscuRPL};
\node[lPur] (IpinRPL) at (692.8,1087.8) {IpinRPL};
\node[lPur] (CupeRPL) at (821.8,1099.3) {CupeRPL};
\node[lPur] (MguRPL) at (797.8,1110.3) {MguRPL};
\node[lPur] (OrfasRPL) at (722.6,1121.8) {OrfasRPL};
\node[lPur] (ScumoRPL) at (687.4,1132.7) {ScumoRPL};
\node[lPur] (PogosRPL) at (685.8,1144.2) {PogosRPL};
\node[lPur] (MeloffRPL) at (691.5,1154.7) {MeloffRPL};
\node[lPur] (ThyvuRPL) at (767.4,1166.6) {ThyvuRPL};
\node[lPur] (PotriRPL) at (699.3,1177) {PotriRPL};
\node[lPur] (PotriRPL2) at (685.8,1188.7) {PotriRPL2};
\node[lGrn] (NespRPL) at (531.7,1199.6) {NespRPL};
\node[lGrn] (CaseRPL) at (575.5,1211.1) {CaseRPL};
\node[lGrn] (SacaRPL) at (577,1222.1) {SacaRPL};
\node[lGrn] (EupleRPL) at (496.4,1233) {EupleRPL};
\node[lOli] (ZmRPL) at (886,1243.5) {ZmRPL};
\node[lOli] (ZmRPL2) at (847.2,1255.6) {ZmRPL2};
\node[lOli] (OrsaRPL2) at (838,1266.5) {OrsaRPL2};
\node[lOli] (qSH1) at (867.2,1277.3) {qSH1};
\node[lOli] (ZmRPL3) at (856.2,1290.5) {ZmRPL3};
\node[lOli] (ZmRPL4) at (856.2,1299) {ZmRPL4};
\node[lOli] (ElcoRPL) at (842,1311.4) {ElcoRPL};
\node[lOli] (MapaRPL) at (940,1323.3) {MapaRPL};
\node[lOli] (OrmaRPL) at (788,1334.4) {OrmaRPL};
\node[lOli] (PoausRPL) at (714,1345.5) {PoausRPL};
\node[lBlu] (MyfraRPL) at (552.1,1355.3) {MyfraRPL};
\node[lBlu] (MimaRPL) at (524.1,1367.2) {MimaRPL};
\node[lBlu] (AsruRPL) at (496.1,1377.2) {AsruRPL};
\node[lCya] (FataRPL) at (449,1387) {FataRPL};
\node[lCya] (DabaRPL) at (449,1398) {DabaRPL};
\node[lCya] (NanaRPL) at (444.2,1409) {NanaRPL};
\node[lCya] (MiteRPL) at (445,1421.5) {MiteRPL};
\node[lCya] (MancoRPL) at (449.5,1433.6) {MancoRPL};
\node[lCya] (PrumaRPL) at (438.9,1445) {PrumaRPL};
\node[lCya] (WonoRPL) at (436.3,1456.6) {WonoRPL};
\node[lCya] (PsechiRPL) at (435.4,1467.5) {PsechiRPL};
\node[lCya] (LarspeRPL) at (393.6,1479.2) {LarspeRPL};
\node[lCya] (AmarRPL) at (558.5,1490.5) {AmarRPL};
\node[lCya] (CymiRPL) at (521.2,1502.2) {CymiRPL};
\node[lMos] (EqdiRPL) at (502.3,1512.7) {EqdiRPL};
\node[lMos] (ScediRPL) at (377.3,1523.5) {ScediRPL};
\node[lMos] (OphvuRPL) at (474.1,1535) {OphvuRPL};
\node[lMos] (EdhyRPL) at (505.8,1545.8) {EdhyRPL};
\node[lMos] (PpatRPL) at (281.5,1557) {PpatRPL};

% branches: thin verticals, then thick horizontals
\begin{scope}[every edge/.style={vbranch}]
	\treeedges
\end{scope}
\begin{scope}[every edge/.style={hbranch}]
	\treeedges
\end{scope}

% duplication stars
\node[yelstar] (star1) at (b1) {};
\node[yelstar] (star2) at (748.5,1281.5) {};

% support values
\begin{scope}[every node/.style={boot}]
	\node[ast] (s1) at (1168,11.5) {*};
	\node[ast] (s2) at (1093,21) {*};
	\node[ast] (s3) at (913,31) {*};
	\node (s4) at (809,43) {99};
	\node[ast] (s5) at (696,52) {*};
	\node[ast] (s6) at (693,81) {*};
	\node[ast] (s7) at (641,89.5) {*};
	\node (s8) at (623,115) {86};
	\node[ast] (s9) at (606,127) {*};
	\node[ast] (s10) at (640,141) {*};
	\node[ast] (s11) at (682,147) {*};
	\node[ast] (s12) at (644,185) {*};
	\node[ast] (s13) at (686,194) {*};
	\node[ast] (s14) at (710,227.6) {*};
	\node[ast] (s15) at (603.6,259) {*};
	\node[ast] (s16) at (570.5,304.7) {*};
	\node[ast] (s17) at (560,338.6) {*};
	\node (s18) at (525.7,363.2) {99};
	\node (s19) at (552.2,372.4) {97};
	\node (s20) at (506.5,378.7) {85};
	\node (s21) at (524.8,388.3) {70};
	\node[ast] (s22) at (526.6,417) {*};
	\node (s23) at (472.3,460.8) {96};
	\node (s24) at (422.4,483.8) {99};
	\node[ast] (s25) at (307,476) {*};
	\node[ast] (s26) at (858.7,556.3) {*};
	\node (s27) at (920.8,526.2) {97};
	\node[ast] (s28) at (934.8,562.6) {*};
	\node (s29) at (919.4,570.5) {97};
	\node[ast] (s30) at (742.3,582.6) {*};
	\node (s31) at (802.7,605.6) {79};
	\node (s32) at (541.7,714.7) {82};
	\node (s33) at (541.7,746) {93};
	\node[ast] (s34) at (572,752.4) {*};
	\node (s35) at (553.9,784.8) {98};
	\node (s36) at (534.7,793.7) {84};
	\node (s37) at (614.4,818.2) {80};
	\node[ast] (s38) at (577.3,831.8) {*};
	\node[ast] (s39) at (639.1,842.2) {*};
	\node[ast] (s40) at (558,880.9) {*};
	\node[ast] (s41) at (603.3,893.4) {*};
	\node[ast] (s42) at (629.3,886.5) {*};
	\node[ast] (s43) at (515.7,930.4) {*};
	\node (s44) at (628.2,1004.8) {98};
	\node[ast] (s45) at (752.2,1017.3) {*};
	\node[ast] (s46) at (839.8,1019.8) {*};
	\node (s47) at (821.8,1032.4) {67};
	\node (s48) at (845.3,1045.3) {81};
	\node (s49) at (864.5,1055) {68};
	\node[ast] (s50) at (599.4,1085.7) {*};
	\node[ast] (s51) at (576.4,1124.8) {*};
	\node (s52) at (628.8,1131) {78};
	\node[ast] (s53) at (644.3,1154.7) {*};
	\node (s54) at (436.4,1089.8) {64};
	\node[ast] (s55) at (588.3,1178.3) {*};
	\node[ast] (s56) at (451.7,1208) {*};
	\node[ast] (s57) at (808,1241.8) {*};
	\node[ast] (s58) at (772.9,1250.8) {*};
	\node[ast] (s59) at (719.3,1271) {*};
	\node[ast] (s60) at (776.1,1291.5) {*};
	\node[ast] (s61) at (836,1287.8) {*};
	\node (s62) at (576.2,1311.4) {99};
	\node (s63) at (479.4,1324.5) {84};
	\node[ast] (s64) at (466.1,1353.9) {*};
	\node (s65) at (404.1,1354.7) {62};
	\node[ast] (s66) at (328,1268) {*};
	\node (s67) at (218,872) {93};
	\node[ast] (s68) at (447.7,1388.7) {*};
	\node[ast] (s69) at (437.6,1398.1) {*};
	\node[ast] (s70) at (433.2,1408.6) {*};
	\node[ast] (s71) at (412.5,1428.5) {*};
	\node (s72) at (387.9,1438.2) {82};
	\node (s73) at (370.3,1450.4) {98};
	\node[ast] (s74) at (299,1460.4) {*};
	\node (s75) at (194.4,1475) {62};
	\node (s76) at (257.3,1489) {69};
	\node (s77) at (211.1,1521.8) {89};
	\node (s78) at (138,1173) {75};
	\node (s79) at (81,1343) {77};
\end{scope}
\end{tikzpicture}
\end{document}
